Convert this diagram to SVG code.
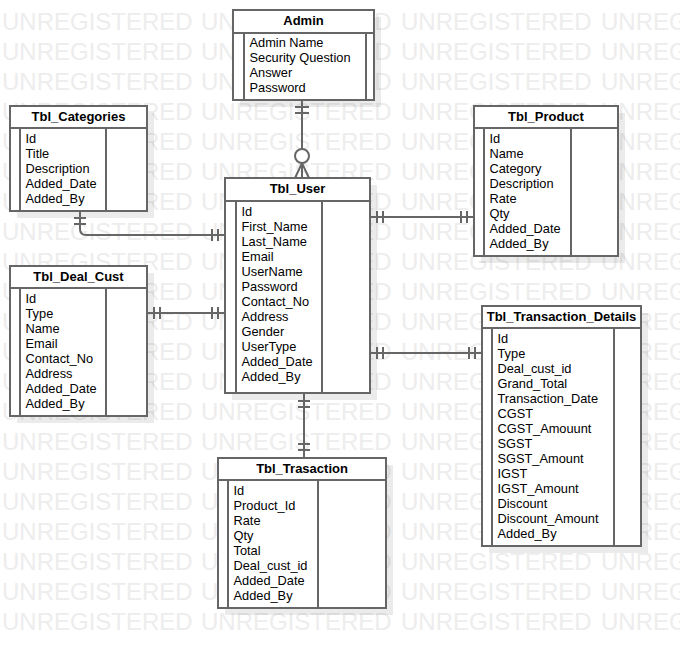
<svg xmlns="http://www.w3.org/2000/svg" width="680" height="648" viewBox="0 0 680 648">
<style>
.wm{font-family:"Liberation Sans",Arial,sans-serif;font-size:24px;fill:#ededed}
.sh{fill:#000;fill-opacity:0.08}
.box{fill:#fff;stroke:#666;stroke-width:2}
.ln{stroke:#666;stroke-width:2;fill:none}
.t{font-family:"Liberation Sans",Arial,sans-serif;font-size:13px;font-weight:bold;text-anchor:middle;fill:#000}
.f{font-family:"Liberation Sans",Arial,sans-serif;font-size:12.8px;fill:#000}
.c{stroke:#666;stroke-width:2;fill:none}
.ci{stroke:#666;stroke-width:2;fill:#fff}
</style>
<defs>
<g id="wmrow" class="wm">
<text x="2" y="0">UNREGISTERED</text>
<text x="201" y="0">UNREGISTERED</text>
<text x="401" y="0">UNREGISTERED</text>
<text x="601" y="0">UNREGISTERED</text>
</g>
</defs>
<rect width="680" height="648" fill="#fff"/>
<g id="watermark">
<use href="#wmrow" y="30"/><use href="#wmrow" y="60"/><use href="#wmrow" y="90"/><use href="#wmrow" y="120"/><use href="#wmrow" y="150"/><use href="#wmrow" y="180"/><use href="#wmrow" y="210"/><use href="#wmrow" y="240"/><use href="#wmrow" y="270"/><use href="#wmrow" y="300"/><use href="#wmrow" y="330"/><use href="#wmrow" y="360"/><use href="#wmrow" y="390"/><use href="#wmrow" y="420"/><use href="#wmrow" y="450"/><use href="#wmrow" y="480"/><use href="#wmrow" y="510"/><use href="#wmrow" y="540"/><use href="#wmrow" y="570"/><use href="#wmrow" y="600"/><use href="#wmrow" y="630"/>
</g>

<g id="admin">
<rect class="sh" x="240" y="17" width="141" height="90"/>
<rect class="box" x="233" y="10" width="141" height="90"/>
<path class="ln" d="M233 33H374M244 33V100M366 33V100"/>
<text class="t" x="303.5" y="25">Admin</text>
<text class="f" x="249.5" y="47">Admin Name</text>
<text class="f" x="249.5" y="62">Security Question</text>
<text class="f" x="249.5" y="77">Answer</text>
<text class="f" x="249.5" y="92">Password</text>
</g>

<g id="tbl_categories">
<rect class="sh" x="17" y="113" width="137" height="105"/>
<rect class="box" x="10" y="106" width="137" height="105"/>
<path class="ln" d="M10 128H147M20 128V211M106 128V211"/>
<text class="t" x="78.5" y="121">Tbl_Categories</text>
<text class="f" x="25.5" y="143">Id</text>
<text class="f" x="25.5" y="158">Title</text>
<text class="f" x="25.5" y="173">Description</text>
<text class="f" x="25.5" y="188">Added_Date</text>
<text class="f" x="25.5" y="203">Added_By</text>
</g>

<g id="tbl_deal_cust">
<rect class="sh" x="17" y="273" width="137" height="150"/>
<rect class="box" x="10" y="266" width="137" height="150"/>
<path class="ln" d="M10 288H147M20 288V416M106 288V416"/>
<text class="t" x="78.5" y="281">Tbl_Deal_Cust</text>
<text class="f" x="25.5" y="303">Id</text>
<text class="f" x="25.5" y="318">Type</text>
<text class="f" x="25.5" y="333">Name</text>
<text class="f" x="25.5" y="348">Email</text>
<text class="f" x="25.5" y="363">Contact_No</text>
<text class="f" x="25.5" y="378">Address</text>
<text class="f" x="25.5" y="393">Added_Date</text>
<text class="f" x="25.5" y="408">Added_By</text>
</g>

<g id="tbl_user">
<rect class="sh" x="232" y="185" width="145" height="215"/>
<rect class="box" x="225" y="178" width="145" height="215"/>
<path class="ln" d="M225 201H370M236 201V393M322 201V393"/>
<text class="t" x="297.5" y="193">Tbl_User</text>
<text class="f" x="241.5" y="215.5">Id</text>
<text class="f" x="241.5" y="230.5">First_Name</text>
<text class="f" x="241.5" y="245.5">Last_Name</text>
<text class="f" x="241.5" y="260.5">Email</text>
<text class="f" x="241.5" y="275.5">UserName</text>
<text class="f" x="241.5" y="290.5">Password</text>
<text class="f" x="241.5" y="305.5">Contact_No</text>
<text class="f" x="241.5" y="320.5">Address</text>
<text class="f" x="241.5" y="335.5">Gender</text>
<text class="f" x="241.5" y="350.5">UserType</text>
<text class="f" x="241.5" y="365.5">Added_Date</text>
<text class="f" x="241.5" y="380.5">Added_By</text>
</g>

<g id="tbl_product">
<rect class="sh" x="481" y="113" width="144" height="150"/>
<rect class="box" x="474" y="106" width="144" height="150"/>
<path class="ln" d="M474 128H618M484 128V256M571 128V256"/>
<text class="t" x="546" y="121">Tbl_Product</text>
<text class="f" x="489.5" y="143">Id</text>
<text class="f" x="489.5" y="158">Name</text>
<text class="f" x="489.5" y="173">Category</text>
<text class="f" x="489.5" y="188">Description</text>
<text class="f" x="489.5" y="203">Rate</text>
<text class="f" x="489.5" y="218">Qty</text>
<text class="f" x="489.5" y="233">Added_Date</text>
<text class="f" x="489.5" y="248">Added_By</text>
</g>

<g id="tbl_transaction_details">
<rect class="sh" x="489" y="313" width="159" height="240"/>
<rect class="box" x="482" y="306" width="159" height="240"/>
<path class="ln" d="M482 328H641M492 328V546M614 328V546"/>
<text class="t" x="561.5" y="321">Tbl_Transaction_Details</text>
<text class="f" x="497.5" y="343">Id</text>
<text class="f" x="497.5" y="358">Type</text>
<text class="f" x="497.5" y="373">Deal_cust_id</text>
<text class="f" x="497.5" y="388">Grand_Total</text>
<text class="f" x="497.5" y="403">Transaction_Date</text>
<text class="f" x="497.5" y="418">CGST</text>
<text class="f" x="497.5" y="433">CGST_Amouunt</text>
<text class="f" x="497.5" y="448">SGST</text>
<text class="f" x="497.5" y="463">SGST_Amount</text>
<text class="f" x="497.5" y="478">IGST</text>
<text class="f" x="497.5" y="493">IGST_Amount</text>
<text class="f" x="497.5" y="508">Discount</text>
<text class="f" x="497.5" y="523">Discount_Amount</text>
<text class="f" x="497.5" y="538">Added_By</text>
</g>

<g id="tbl_trasaction">
<rect class="sh" x="225" y="465" width="168" height="150"/>
<rect class="box" x="218" y="458" width="168" height="150"/>
<path class="ln" d="M218 480H386M228 480V608M318 480V608"/>
<text class="t" x="302" y="473">Tbl_Trasaction</text>
<text class="f" x="233.5" y="495">Id</text>
<text class="f" x="233.5" y="510">Product_Id</text>
<text class="f" x="233.5" y="525">Rate</text>
<text class="f" x="233.5" y="540">Qty</text>
<text class="f" x="233.5" y="555">Total</text>
<text class="f" x="233.5" y="570">Deal_cust_id</text>
<text class="f" x="233.5" y="585">Added_Date</text>
<text class="f" x="233.5" y="600">Added_By</text>
</g>

<g id="connectors">
<path class="c" d="M302 100V178M295 107H309M295 113H309M295 178L302 163L309 178"/>
<circle class="ci" cx="302" cy="156" r="7"/>
<path class="c" d="M80 211V229Q80 235 86 235H225M74 218H86M74 224H86M212 229V241M218 229V241"/>
<path class="c" d="M147 313H225M154 307V319M160 307V319M212 307V319M218 307V319"/>
<path class="c" d="M370 217H474M377 211V223M383 211V223M461 211V223M467 211V223"/>
<path class="c" d="M370 353H482M377 347V359M383 347V359M469 347V359M475 347V359"/>
<path class="c" d="M304 393V458M298 401H310M298 407H310M298 444H310M298 450H310"/>
</g>
</svg>
